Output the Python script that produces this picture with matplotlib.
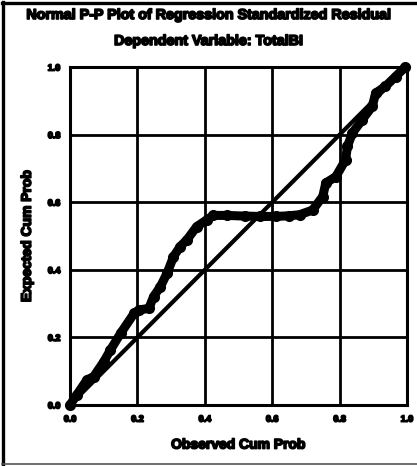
import numpy as np
import matplotlib.pyplot as plt
from matplotlib.lines import Line2D
import matplotlib.patheffects as pe

plt.rcParams.update({
    'font.family': ['Liberation Sans', 'DejaVu Sans'],
    'font.weight': 'bold',
})

# observed vs expected cumulative probabilities
observed = [0.00, 0.02, 0.05, 0.07, 0.10, 0.12, 0.15, 0.19, 0.204, 0.234, 0.248,
            0.268, 0.288, 0.307, 0.327, 0.347, 0.376, 0.406, 0.425, 0.465, 0.52,
            0.563, 0.612, 0.65, 0.681, 0.72, 0.75, 0.759, 0.789, 0.818, 0.823,
            0.838, 0.867, 0.897, 0.907, 0.936, 0.966, 0.995]
expected = [0.00, 0.03, 0.074, 0.084, 0.128, 0.163, 0.212, 0.271, 0.281, 0.286, 0.321,
            0.350, 0.390, 0.439, 0.469, 0.489, 0.528, 0.548, 0.561, 0.561, 0.559,
            0.558, 0.558, 0.560, 0.563, 0.577, 0.617, 0.657, 0.676, 0.726, 0.765,
            0.805, 0.844, 0.884, 0.923, 0.943, 0.972, 1.0]
ticks = [0.0, 0.2, 0.4, 0.6, 0.8, 1.0]
tick_labels = ['0.0', '0.2', '0.4', '0.6', '0.8', '1.0']

heavy = [pe.withStroke(linewidth=1.2, foreground='black')]

fig = plt.figure(figsize=(4.17, 4.66), dpi=100)
ax = fig.add_axes([0.168, 0.131, 0.808, 0.725])

# grid
for t in ticks[1:-1]:
    ax.axvline(t, color='black', lw=2.0, zorder=1)
    ax.axhline(t, color='black', lw=2.0, zorder=1)

# reference line
ax.plot([0, 1], [0, 1], color='black', lw=3.0, zorder=2, solid_capstyle='butt')

# observed points
ax.plot(observed, expected, color='black', lw=6.5, zorder=3,
        solid_capstyle='round', solid_joinstyle='round',
        marker='o', markersize=7, clip_on=False)

ax.set_xlim(0, 1)
ax.set_ylim(0, 1)
ax.set_xticks(ticks)
ax.set_yticks(ticks)
ax.set_xticklabels(tick_labels)
ax.set_yticklabels(tick_labels)
ax.tick_params(length=0, labelsize=6.5, pad=7)
for lab in ax.get_xticklabels() + ax.get_yticklabels():
    lab.set_fontweight('bold')
    lab.set_path_effects(heavy)
for sp in ax.spines.values():
    sp.set_linewidth(2.2)
    sp.set_zorder(4)

ax.set_xlabel('Observed Cum Prob', fontsize=10, fontweight='bold', labelpad=10,
              path_effects=heavy)
ax.set_ylabel('Expected Cum Prob', fontsize=10, fontweight='bold', labelpad=10,
              path_effects=heavy)

fig.text(0.5, 1 - 15 / 466, 'Normal P-P Plot of Regression Standardized Residual',
         ha='center', va='center', fontsize=10.3, fontweight='bold', path_effects=heavy)
fig.text(0.5, 1 - 41 / 466, 'Dependent Variable: TotalBI',
         ha='center', va='center', fontsize=10.3, fontweight='bold', path_effects=heavy)

# outer frame
fig.add_artist(Line2D([3 / 417, 3 / 417], [1 - 2 / 466, 1 - 464 / 466],
                      transform=fig.transFigure, color='black', lw=2.4))
fig.add_artist(Line2D([2 / 417, 1], [1 - 2.5 / 466, 1 - 2.5 / 466],
                      transform=fig.transFigure, color='black', lw=2.4))
fig.add_artist(Line2D([2 / 417, 1], [1 - 464 / 466, 1 - 464 / 466],
                      transform=fig.transFigure, color='#555555', lw=1.2))

fig.savefig('out.png', dpi=100)
